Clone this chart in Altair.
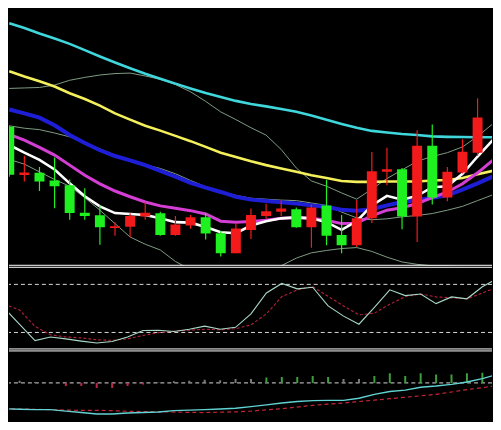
import altair as alt
import pandas as pd

# ---------------- data ----------------
candle_idx = list(range(-1, 31))
opens  = [17.7, 12.67, 12.9, 12.1, 11.6, 8.73, 8.47, 7.13, 7.27, 8.33, 8.67, 6.4, 7.4, 8.27, 6.6, 4.5,
          6.93, 8.4, 8.83, 9.1, 7.23, 9.5, 6.4, 5.33, 8.17, 13.0, 13.27, 8.33, 15.73, 10.33, 12.93, 15.0]
closes = [12.7, 12.93, 12.0, 11.5, 8.7, 8.4, 7.23, 7.33, 8.4, 8.73, 6.4, 7.5, 8.27, 6.57, 4.5, 7.1,
          8.5, 8.9, 9.17, 7.23, 9.27, 6.33, 5.33, 8.17, 13.07, 13.27, 8.33, 15.73, 10.33, 13.0, 15.1, 18.67]
highs  = [17.8, 14.67, 13.5, 14.5, 12.2, 11.3, 9.5, 7.73, 8.67, 9.83, 8.83, 8.4, 8.5, 8.67, 6.83, 7.67,
          9.17, 9.67, 10.0, 9.27, 9.6, 12.17, 8.5, 10.07, 15.07, 15.5, 13.4, 17.33, 17.93, 13.5, 16.4, 20.67]
lows   = [12.5, 12.0, 11.0, 9.2, 8.0, 8.0, 5.4, 6.33, 6.17, 8.0, 6.33, 6.33, 7.07, 5.93, 4.17, 4.5,
          6.0, 8.07, 8.4, 7.17, 5.07, 5.33, 4.5, 5.17, 7.67, 11.6, 7.0, 5.67, 9.6, 9.93, 12.83, 14.67]

line_idx = list(range(-1, 32))
ma_cyan    = [28.5, 28.0, 27.43, 26.9, 26.35, 25.7, 25.03, 24.4, 23.8, 23.23, 22.7, 22.2, 21.7, 21.23, 20.8, 20.4, 20.07,
              19.83, 19.55, 19.27, 18.87, 18.43, 18.0, 17.6, 17.27, 17.1, 16.95, 16.85, 16.7, 16.65, 16.63, 16.6, 16.6]
ma_yellow  = [23.5, 22.95, 22.45, 21.9, 21.2, 20.6, 19.9, 19.1, 18.45, 17.8, 17.3, 16.75, 16.2, 15.6, 15.0, 14.55, 14.1,
              13.7, 13.35, 13.0, 12.65, 12.35, 12.05, 11.95, 11.95, 12.0, 12.0, 12.0, 12.1, 12.15, 12.35, 12.75, 13.1]
ma_blue    = [19.5, 19.1, 18.65, 17.85, 16.85, 16.0, 15.25, 14.65, 14.2, 13.7, 13.1, 12.5, 11.85, 11.35, 10.9, 10.4, 10.1,
              9.95, 9.83, 9.7, 9.5, 9.33, 9.05, 8.95, 9.1, 9.5, 9.85, 10.05, 10.3, 10.55, 11.15, 11.8, 12.5]
ma_magenta = [16.9, 16.3, 15.55, 14.75, 13.7, 12.65, 11.75, 11.0, 10.4, 9.85, 9.45, 9.2, 8.95, 8.6, 7.85, 7.75, 7.83,
              7.95, 8.15, 8.2, 8.17, 7.95, 7.6, 7.65, 8.4, 9.0, 9.25, 9.7, 10.3, 10.9, 11.75, 12.9, 14.2]
ma_white   = [15.8, 15.0, 14.25, 13.25, 11.8, 10.45, 9.4, 8.7, 8.6, 8.5, 8.15, 7.75, 7.7, 7.25, 6.7, 6.6, 7.4,
              7.85, 8.15, 8.25, 8.15, 7.75, 6.95, 7.85, 9.5, 10.5, 10.1, 10.5, 11.4, 11.5, 12.8, 14.6, 16.3]
band_upper = [21.7, 21.75, 21.8, 22.05, 22.55, 22.85, 23.1, 23.25, 23.3, 23.0, 22.65, 22.1, 21.35, 20.35, 19.25, 18.45, 17.6,
              16.83, 15.33, 13.4, 12.05, 11.5, 10.8, 10.15, 11.2, 12.3, 13.2, 14.1, 14.6, 15.0, 15.6, 16.7, 18.0]
band_mid   = [17.8, 17.55, 17.4, 17.05, 16.65, 16.0, 15.4, 14.75, 14.15, 13.75, 13.35, 12.8, 12.1, 11.45, 10.95, 10.55, 10.25,
              10.15, 10.05, 10.0, 9.75, 9.5, 8.8, 8.2, 8.0, 8.1, 8.3, 8.45, 8.65, 9.0, 9.4, 10.0, 10.6]
band_lower = [14.3, 13.8, 13.0, 12.2, 11.5, 10.3, 9.0, 7.6, 6.2, 5.45, 4.85, 3.65, 2.8, 2.2, 1.8, 1.7, 1.8,
              2.4, 3.2, 4.0, 4.55, 4.8, 5.0, 5.1, 4.7, 4.1, 3.6, 3.35, 3.2, 3.2, 3.1, 3.0, 3.0]

k_line = [50.4, 30, 9.9, 14.4, 12, 9.2, 6.8, 8.7, 14.4, 22.4, 22.8, 21.2, 24, 27.9, 24, 26.4, 43.2,
          69.2, 81.2, 74.4, 76.4, 53.1, 40.4, 30.3, 51.2, 73.2, 66, 68, 56, 64.4, 62, 77.1, 87.6]
d_line = [55.2, 48, 27.6, 17.1, 14.4, 13.2, 10.8, 10.2, 12, 16.2, 19.8, 21.6, 22.8, 24, 23.4, 24.6, 29.4,
          43.2, 64.8, 73.2, 77.1, 65.1, 53.1, 42, 44, 55.2, 64.8, 68, 64.4, 63.2, 62, 69.2, 76.8]
kd_levels = [80, 20]

dif = [-0.27, -0.275, -0.28, -0.28, -0.295, -0.31, -0.325, -0.325, -0.315, -0.31, -0.305, -0.29, -0.285, -0.28, -0.273,
       -0.265, -0.248, -0.23, -0.21, -0.195, -0.185, -0.183, -0.183, -0.16, -0.12, -0.09, -0.075, -0.045, -0.033,
       -0.015, 0.01, 0.045, 0.09]
dea = [-0.27, -0.273, -0.276, -0.28, -0.285, -0.287, -0.287, -0.29, -0.297, -0.30, -0.302, -0.305, -0.308, -0.31,
       -0.306, -0.303, -0.295, -0.282, -0.27, -0.253, -0.235, -0.222, -0.21, -0.195, -0.18, -0.165, -0.15, -0.135,
       -0.12, -0.095, -0.07, -0.05, -0.027]
hist_idx = list(range(0, 31))
hist = [0.023, 0.01, 0.005, -0.033, -0.033, -0.053, -0.053, -0.033, -0.017, 0.005, 0.017, 0.023, 0.033, 0.027,
        0.04, 0.04, 0.057, 0.063, 0.063, 0.073, 0.063, 0.04, 0.04, 0.073, 0.10, 0.073, 0.10, 0.087, 0.087, 0.10, 0.107]
hist_kind = ["flat"] * 3 + ["neg"] * 6 + ["flat"] * 7 + ["pos"] * 5 + ["flat"] * 2 + ["pos"] * 8

# ---------------- layout ----------------
W = 485
H1, H2, H3 = 258, 84, 72
XSC = alt.Scale(domain=[-0.6875, 30.625], nice=False, zero=False)
S1 = alt.Scale(domain=[3.2, 30], nice=False, zero=False)
S2 = alt.Scale(domain=[-1.2, 103.2], nice=False, zero=False)
S3 = alt.Scale(domain=[-0.40, 0.35], nice=False, zero=False)

RED = "#f21a1a"
GREEN = "#1ff01f"


def X():
    return alt.X("i:Q", scale=XSC, axis=None)


def line(values, scale, color, width, dash=None, opacity=1.0):
    df = pd.DataFrame({"i": line_idx, "v": values})
    kw = dict(color=color, strokeWidth=width, clip=True, opacity=opacity)
    if dash:
        kw["strokeDash"] = dash
    return alt.Chart(df).mark_line(**kw).encode(x=X(), y=alt.Y("v:Q", scale=scale, axis=None))


def hrule(value, scale, color, width, dash=None):
    df = pd.DataFrame({"v": [value]})
    kw = dict(color=color, strokeWidth=width, clip=True)
    if dash:
        kw["strokeDash"] = dash
    return alt.Chart(df).mark_rule(**kw).encode(y=alt.Y("v:Q", scale=scale, axis=None))


def separator(ypix):
    # panel frame line, drawn at a whole pixel row
    return alt.Chart(pd.DataFrame({"d": [0]})).mark_rule(color="#ffffff", strokeWidth=1).encode(
        x=alt.value(0), x2=alt.value(W), y=alt.value(ypix))


# ---- main price panel ----
cdf = pd.DataFrame({"i": candle_idx, "open": opens, "close": closes, "high": highs, "low": lows})
cdf["dir"] = ["up" if c >= o else "down" for o, c in zip(opens, closes)]
ccolor = alt.Color("dir:N", scale=alt.Scale(domain=["up", "down"], range=[RED, GREEN]), legend=None)

wicks = alt.Chart(cdf).mark_rule(strokeWidth=1.2, clip=True).encode(
    x=X(), y=alt.Y("low:Q", scale=S1, axis=None), y2="high:Q", color=ccolor)
bodies = alt.Chart(cdf).mark_bar(size=10, clip=True).encode(
    x=X(), y=alt.Y("open:Q", scale=S1, axis=None), y2="close:Q", color=ccolor)

BAND = "#7f9c84"
main = alt.layer(
    line(band_upper, S1, BAND, 1),
    line(band_mid, S1, BAND, 1),
    line(band_lower, S1, BAND, 1),
    line(ma_cyan, S1, "#3fd6dc", 2.6),
    line(ma_yellow, S1, "#f4f05c", 2.6),
    line(ma_blue, S1, "#1e1ed6", 4),
    line(ma_magenta, S1, "#d43ed4", 3),
    line(ma_white, S1, "#ffffff", 2.6),
    wicks,
    bodies,
    separator(H1 - 0.5),
).properties(width=W, height=H1)

# ---- KD panel ----
kd = alt.layer(
    separator(1.5),
    separator(H2 - 0.5),
    hrule(kd_levels[0], S2, "#d8d8d8", 1, [4, 3]),
    hrule(kd_levels[1], S2, "#d8d8d8", 1, [4, 3]),
    line(d_line, S2, "#b3223a", 1.1, [3, 2]),
    line(k_line, S2, "#a8d8c8", 1.1),
).properties(width=W, height=H2)

# ---- MACD panel ----
hdf = pd.DataFrame({"i": hist_idx, "h": hist, "z": [0] * len(hist), "kind": hist_kind})
hbars = alt.Chart(hdf).mark_rule(strokeWidth=2, clip=True).encode(
    x=X(), y=alt.Y("h:Q", scale=S3, axis=None), y2="z:Q",
    color=alt.Color("kind:N", scale=alt.Scale(domain=["pos", "neg", "flat"],
                                              range=["#3c9e3c", "#c0264a", "#7a7a7a"]), legend=None))
macd = alt.layer(
    separator(1.5),
    hrule(0, S3, "#d8d8d8", 1, [4, 3]),
    hbars,
    line(dea, S3, "#c42636", 1.2, [4, 3]),
    line(dif, S3, "#62d2d2", 1.4),
).properties(width=W, height=H3)

chart = alt.vconcat(main, kd, macd, spacing=0).resolve_scale(color="independent").properties(
    background="#000000", padding=0
).configure_view(stroke="transparent", strokeWidth=0)

chart.save("out.html", embed_options={"renderer": "svg", "actions": False})
